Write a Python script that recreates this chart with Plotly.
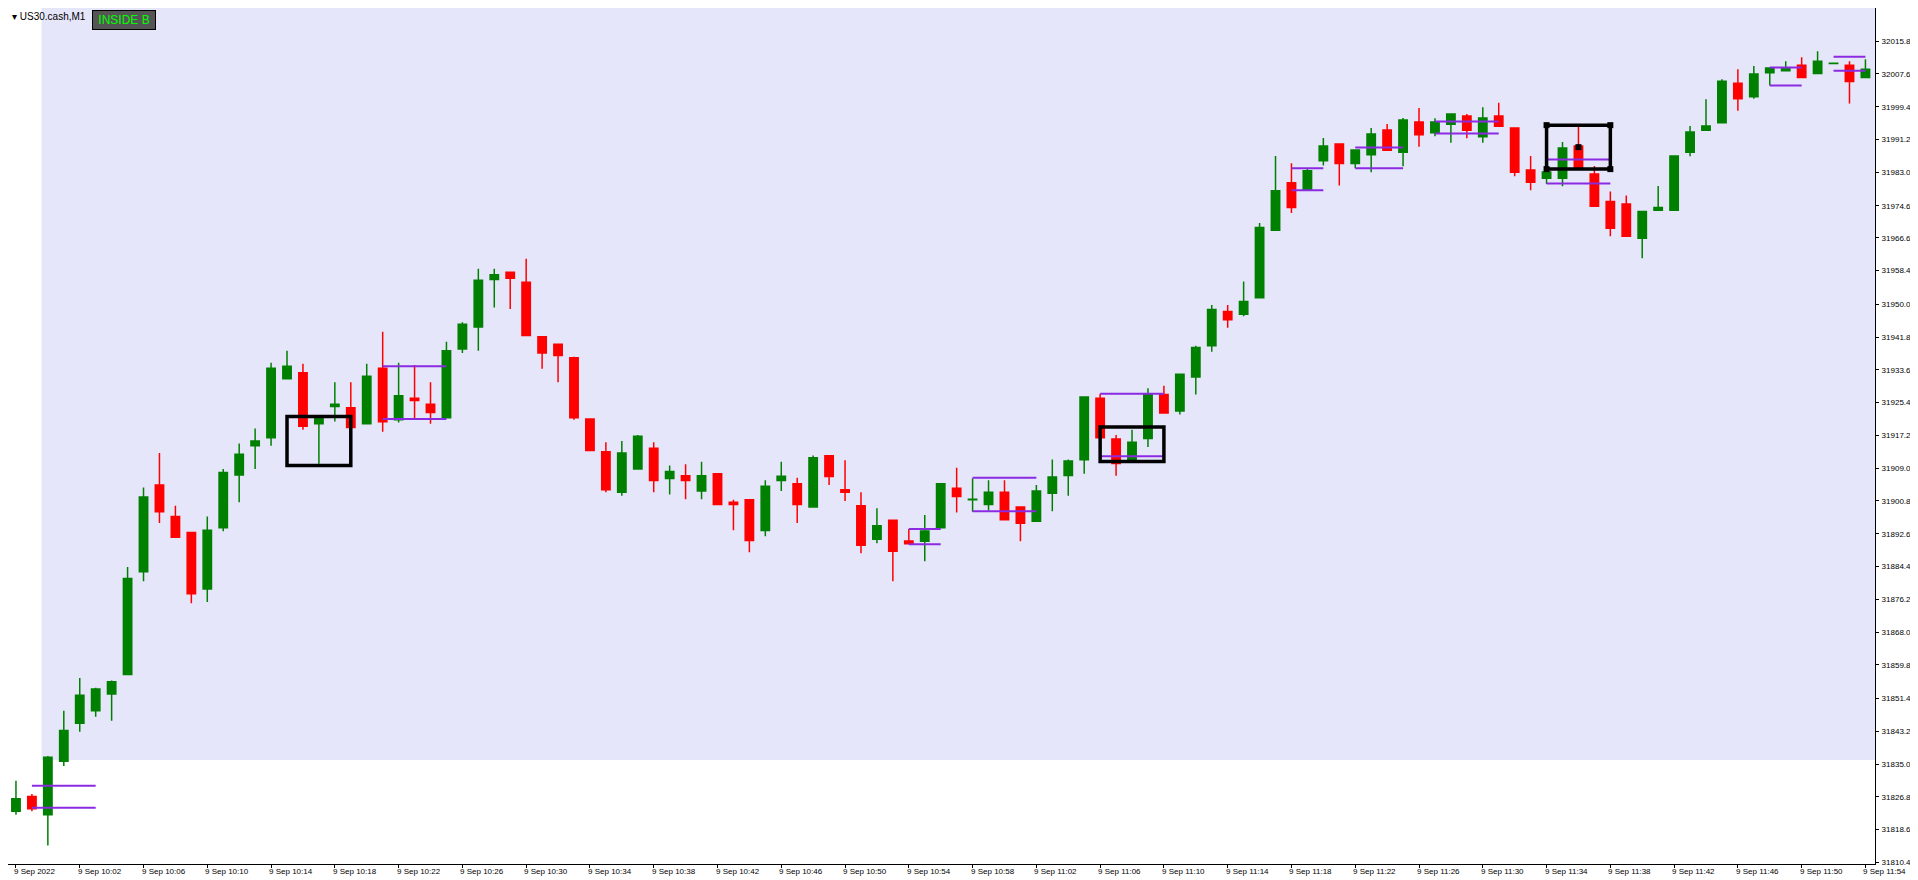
import plotly.graph_objects as go

# candle data, 1 minute bars, 9 Sep 2022 09:58 .. 11:54 (index 0 = 09:58)
opens = [31823.2, 31826.9, 31822.3, 31835.7, 31845.2, 31848.3, 31852.5, 31857.4, 31883.1, 31904.8,
         31896.9, 31892.9, 31878.8, 31894.1, 31907.3, 31914.6, 31916.6, 31931.4, 31932.9, 31920.1,
         31924.4, 31924.1, 31920.1, 31934.0, 31921.1, 31926.5, 31925.0, 31921.6, 31938.8, 31944.3,
         31956.2, 31958.0, 31955.5, 31941.9, 31940.0, 31936.6, 31921.3, 31913.1, 31903.0, 31908.8,
         31914.0, 31906.4, 31907.1, 31903.3, 31907.6, 31900.5, 31901.1, 31893.4, 31905.9, 31905.1,
         31899.3, 31912.1, 31903.6, 31899.6, 31891.2, 31896.0, 31890.8, 31890.7, 31894.1, 31904.0,
         31901.1, 31899.9, 31903.0, 31899.3, 31895.7, 31902.7, 31907.2, 31911.1, 31926.5, 31916.3,
         31911.1, 31916.4, 31927.4, 31923.3, 31931.8, 31939.6, 31948.2, 31947.5, 31951.6, 31968.5,
         31980.4, 31978.7, 31985.9, 31990.1, 31985.2, 31987.4, 31993.6, 31988.0, 31995.6, 31992.9,
         31995.0, 31997.1, 31991.9, 31997.1, 31994.1, 31983.6, 31981.5, 31981.5, 31989.6, 31982.6,
         31975.7, 31975.1, 31966.5, 31973.5, 31973.5, 31988.0, 31993.5, 31995.4, 32005.3, 32001.9,
         32007.9, 32008.4, 32009.8, 32007.7, 32010.2, 32009.8, 32006.7]
highs = [31830.8, 31827.5, 31837.0, 31848.3, 31856.5, 31854.1, 31855.9, 31884.3, 31904.2, 31912.8,
         31899.6, 31892.9, 31896.9, 31908.8, 31915.2, 31918.9, 31935.4, 31938.4, 31935.1, 31921.9,
         31930.5, 31930.5, 31935.1, 31943.1, 31935.4, 31934.8, 31930.5, 31940.6, 31945.5, 31958.9,
         31958.9, 31958.0, 31961.4, 31941.9, 31940.0, 31936.9, 31921.3, 31915.5, 31915.8, 31917.3,
         31915.5, 31909.7, 31910.0, 31910.6, 31907.6, 31901.1, 31901.1, 31906.0, 31910.6, 31906.6,
         31912.2, 31912.1, 31911.0, 31903.0, 31899.0, 31896.0, 31893.8, 31897.3, 31905.1, 31909.1,
         31906.5, 31906.0, 31906.0, 31899.3, 31904.8, 31911.2, 31911.2, 31926.8, 31927.6, 31917.3,
         31918.6, 31929.0, 31929.6, 31932.5, 31939.6, 31949.8, 31949.8, 31955.7, 31970.3, 31987.1,
         31985.3, 31984.0, 31991.6, 31990.1, 31988.6, 31994.1, 31995.1, 31996.6, 31999.1, 31996.5,
         31997.6, 31997.6, 31999.3, 32000.4, 31994.1, 31987.1, 31983.1, 31990.6, 31994.4, 31984.6,
         31978.2, 31977.2, 31973.2, 31979.6, 31987.1, 31994.6, 32001.3, 32006.3, 32008.8, 32009.6,
         32009.1, 32010.8, 32011.8, 32013.3, 32010.4, 32010.8, 32011.3]
lows = [31822.3, 31823.2, 31814.6, 31834.5, 31843.1, 31846.8, 31845.8, 31857.4, 31880.7, 31895.3,
        31891.7, 31875.2, 31875.5, 31893.2, 31900.5, 31908.8, 31914.6, 31931.4, 31918.6, 31910.1,
        31920.7, 31919.2, 31920.1, 31918.1, 31920.4, 31921.1, 31920.1, 31921.6, 31937.8, 31938.4,
        31949.2, 31948.8, 31942.2, 31933.9, 31930.5, 31921.1, 31913.4, 31903.0, 31902.1, 31908.8,
        31903.0, 31902.4, 31901.2, 31901.2, 31899.9, 31893.5, 31888.0, 31892.0, 31903.3, 31895.3,
        31899.3, 31904.8, 31900.8, 31887.7, 31890.2, 31880.7, 31890.1, 31885.7, 31894.1, 31897.9,
        31898.1, 31898.4, 31896.1, 31890.7, 31895.7, 31898.2, 31902.1, 31907.6, 31915.5, 31907.1,
        31911.1, 31914.3, 31922.8, 31922.4, 31927.4, 31938.1, 31944.1, 31947.0, 31951.6, 31968.5,
        31972.8, 31978.7, 31984.7, 31979.7, 31984.0, 31983.0, 31988.5, 31984.5, 31989.4, 31992.0,
        31990.4, 31991.5, 31990.4, 31994.5, 31982.0, 31978.5, 31980.1, 31979.5, 31984.1, 31974.5,
        31967.0, 31967.0, 31961.5, 31973.5, 31973.5, 31987.0, 31993.5, 31995.4, 31998.4, 32001.4,
        32004.7, 32008.4, 32006.7, 32007.7, 32010.2, 32000.2, 32006.7]
closes = [31826.3, 31823.8, 31836.7, 31843.4, 31852.2, 31853.8, 31855.6, 31881.4, 31901.8, 31898.1,
          31891.7, 31877.6, 31893.5, 31907.9, 31912.5, 31915.8, 31934.0, 31934.5, 31919.5, 31921.9,
          31925.0, 31919.2, 31932.0, 31920.6, 31927.1, 31925.9, 31922.9, 31938.4, 31945.0, 31956.0,
          31957.4, 31956.5, 31942.2, 31937.8, 31937.2, 31921.6, 31913.4, 31903.6, 31912.8, 31917.0,
          31905.9, 31908.2, 31905.9, 31907.1, 31899.9, 31899.9, 31890.9, 31904.5, 31907.0, 31899.9,
          31911.6, 31906.9, 31903.0, 31889.7, 31894.6, 31888.2, 31890.1, 31893.3, 31905.1, 31901.9,
          31901.2, 31903.0, 31896.1, 31895.2, 31903.3, 31906.8, 31910.8, 31926.8, 31916.6, 31910.2,
          31915.5, 31927.4, 31922.8, 31932.5, 31939.2, 31948.7, 31946.1, 31950.7, 31969.2, 31978.4,
          31974.2, 31983.4, 31989.6, 31985.2, 31988.6, 31992.6, 31988.5, 31996.1, 31992.4, 31995.6,
          31997.6, 31993.5, 31996.6, 31994.5, 31983.0, 31980.5, 31983.1, 31989.1, 31984.1, 31974.5,
          31969.0, 31967.0, 31973.2, 31974.2, 31987.1, 31993.1, 31994.6, 32005.8, 32001.4, 32007.6,
          32009.1, 32008.9, 32006.7, 32010.8, 32010.3, 32005.7, 32008.8]

# x-axis time labels (label index -> text)
time_idx = [0] + list(range(4, 117, 4))
time_text = ["9 Sep 2022"] + ["9 Sep %d:%02d" % (10 + (m // 60), m % 60) for m in range(2, 115, 4)]

price_ticks = [32015.80, 32007.60, 31999.40, 31991.20, 31983.00, 31974.60, 31966.60, 31958.40,
               31950.00, 31941.80, 31933.60, 31925.40, 31917.20, 31909.00, 31900.80, 31892.60,
               31884.40, 31876.20, 31868.00, 31859.80, 31851.40, 31843.20, 31835.00, 31826.80,
               31818.60, 31810.40]

# inside-bar indicator levels: (start bar, end bar, upper, lower)
ib_levels = [(1, 5, 31829.6, 31824.1), (23, 27, 31934.5, 31921.3), (56, 58, 31893.8, 31890.0),
             (60, 64, 31906.6, 31898.2), (68, 72, 31927.6, 31912.0), (80, 82, 31984.0, 31978.5),
             (84, 87, 31989.2, 31984.0), (89, 93, 31995.7, 31992.7), (96, 100, 31986.2, 31980.2),
             (110, 112, 32009.2, 32004.7), (114, 116, 32011.9, 32008.4)]
# black boxes: (bar from, bar to, top, bottom)
boxes = [(17, 21, 31921.9, 31909.7), (68, 72, 31919.3, 31910.7), (96, 100, 31994.8, 31983.8)]

x = list(range(len(opens)))

fig = go.Figure()
fig.add_trace(go.Candlestick(
    x=x, open=opens, high=highs, low=lows, close=closes,
    increasing=dict(line=dict(color="#008000", width=1.5), fillcolor="#008000"),
    decreasing=dict(line=dict(color="#ff0000", width=1.5), fillcolor="#ff0000"),
    whiskerwidth=0, hoverinfo="skip", showlegend=False))

px_, py_ = [], []
for a, b, up, lo in ib_levels:
    px_ += [a, b, None, a, b, None]
    py_ += [up, up, None, lo, lo, None]
fig.add_trace(go.Scatter(x=px_, y=py_, mode="lines", line=dict(color="#8a2be2", width=2),
                         hoverinfo="skip", showlegend=False))

shapes = [dict(type="rect", xref="x", yref="y", x0=1.6, x1=117, y0=31836.0, y1=32030,
               fillcolor="#e6e6fa", line=dict(width=0), layer="below")]
for a, b, t, btm in boxes:
    shapes.append(dict(type="rect", xref="x", yref="y", x0=a, x1=b, y0=btm, y1=t,
                       line=dict(color="black", width=3.5)))
# corner markers on the last (selected) box
a, b, t, btm = boxes[-1]
fig.add_trace(go.Scatter(x=[a, b, a, b, (a + b) / 2], y=[t, t, btm, btm, 31989.3], mode="markers",
                         marker=dict(symbol="square", size=6, color="black"),
                         hoverinfo="skip", showlegend=False))

annotations = []
for i, t in zip(time_idx, time_text):
    annotations.append(dict(x=i - 0.25, y=0, xref="x", yref="paper", yshift=-1, text=t,
                            showarrow=False, xanchor="left", yanchor="top",
                            font=dict(size=8, color="black", family="Liberation Sans")))
annotations.append(dict(x=0.001, y=0.999, xref="paper", yref="paper", text="▾ US30.cash,M1",
                        showarrow=False, xanchor="left", yanchor="top",
                        font=dict(size=10, color="black", family="Liberation Sans")))
annotations.append(dict(x=0.045, y=0.998, xref="paper", yref="paper", text=" INSIDE B ",
                        showarrow=False, xanchor="left", yanchor="top", bgcolor="#555555",
                        bordercolor="black", borderwidth=1, borderpad=2,
                        font=dict(size=12, color="#00ff00", family="Liberation Sans")))

fig.update_layout(
    width=1918, height=880,
    margin=dict(l=0, r=51, t=0, b=24),
    plot_bgcolor="white", paper_bgcolor="white",
    boxgap=0.25,
    shapes=shapes, annotations=annotations,
    xaxis=dict(range=[-0.5, 116.6], rangeslider=dict(visible=False), showgrid=False,
               zeroline=False, showline=True, linecolor="black", linewidth=1,
               tickvals=time_idx, ticks="outside", ticklen=3, tickcolor="black",
               showticklabels=False),
    yaxis=dict(range=[31810.0, 32024.1], side="right", showgrid=False, zeroline=False,
               showline=True, linecolor="black", linewidth=1, ticks="outside", ticklen=3,
               tickcolor="black", tickvals=price_ticks, ticklabelstandoff=1,
               ticktext=["%.2f" % v for v in price_ticks],
               tickfont=dict(size=8, color="black", family="Liberation Sans")),
)

fig.write_html("out.html")
